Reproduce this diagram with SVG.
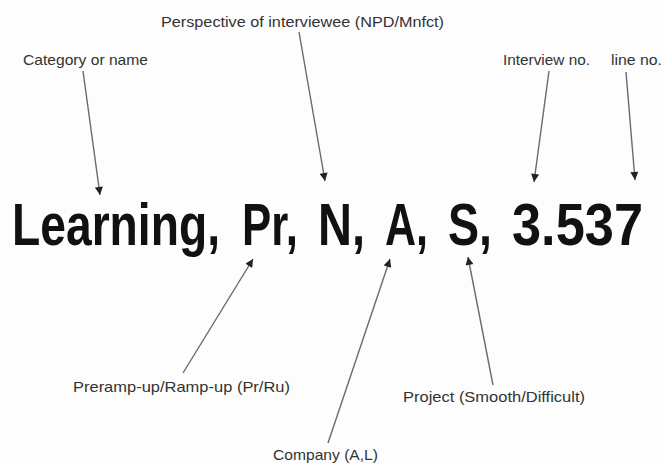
<svg xmlns="http://www.w3.org/2000/svg" width="664" height="465" viewBox="0 0 664 465">
  <style>
    .lbl { font-family: "Liberation Sans", Arial, sans-serif; font-size: 14.5px; fill: #333; }
    .code { font-family: "Liberation Sans", Arial, sans-serif; font-size: 59px; font-weight: bold; fill: #111; }
    .conn { stroke: #6a6a6a; stroke-width: 1.4; fill: none; marker-end: url(#tip); }
  </style>
  <defs>
    <marker id="tip" markerUnits="userSpaceOnUse" viewBox="0 0 10 10" refX="10" refY="5" markerWidth="9" markerHeight="8" orient="auto">
      <path d="M0,0 L10,5 L0,10 Z" fill="#222"/>
    </marker>
  </defs>
  <rect width="664" height="465" fill="#fdfdfd"/>

  <!-- coding string, one piece per field -->
  <g id="code">
    <text class="code" x="12" y="245" textLength="208" lengthAdjust="spacingAndGlyphs">Learning,</text>
    <text class="code" x="242" y="245" textLength="56" lengthAdjust="spacingAndGlyphs">Pr,</text>
    <text class="code" x="318" y="245" textLength="47" lengthAdjust="spacingAndGlyphs">N,</text>
    <text class="code" x="385" y="245" textLength="43" lengthAdjust="spacingAndGlyphs">A,</text>
    <text class="code" x="448" y="245" textLength="44" lengthAdjust="spacingAndGlyphs">S,</text>
    <text class="code" x="512" y="245" textLength="131" lengthAdjust="spacingAndGlyphs">3.537</text>
  </g>

  <!-- labels -->
  <g id="category"><text class="lbl" x="23" y="65" textLength="125" lengthAdjust="spacingAndGlyphs">Category or name</text></g>
  <g id="perspective"><text class="lbl" x="161" y="27" textLength="283" lengthAdjust="spacingAndGlyphs">Perspective of interviewee (NPD/Mnfct)</text></g>
  <g id="interview"><text class="lbl" x="503" y="65" textLength="87" lengthAdjust="spacingAndGlyphs">Interview no.</text></g>
  <g id="line"><text class="lbl" x="611" y="65" textLength="51" lengthAdjust="spacingAndGlyphs">line no.</text></g>
  <g id="phase"><text class="lbl" x="73" y="392" textLength="217" lengthAdjust="spacingAndGlyphs">Preramp-up/Ramp-up (Pr/Ru)</text></g>
  <g id="project"><text class="lbl" x="403" y="402" textLength="182" lengthAdjust="spacingAndGlyphs">Project (Smooth/Difficult)</text></g>
  <g id="company"><text class="lbl" x="273" y="460" textLength="105" lengthAdjust="spacingAndGlyphs">Company (A,L)</text></g>

  <!-- connectors -->
  <g id="connectors">
    <line class="conn" x1="83" y1="71" x2="100" y2="195"/>
    <line class="conn" x1="299" y1="32" x2="325" y2="181"/>
    <line class="conn" x1="549" y1="71" x2="534" y2="182"/>
    <line class="conn" x1="626" y1="72" x2="635" y2="180"/>
    <line class="conn" x1="183" y1="373" x2="253" y2="259"/>
    <line class="conn" x1="328" y1="443" x2="390" y2="259"/>
    <line class="conn" x1="493" y1="385" x2="468" y2="257"/>
  </g>
</svg>
